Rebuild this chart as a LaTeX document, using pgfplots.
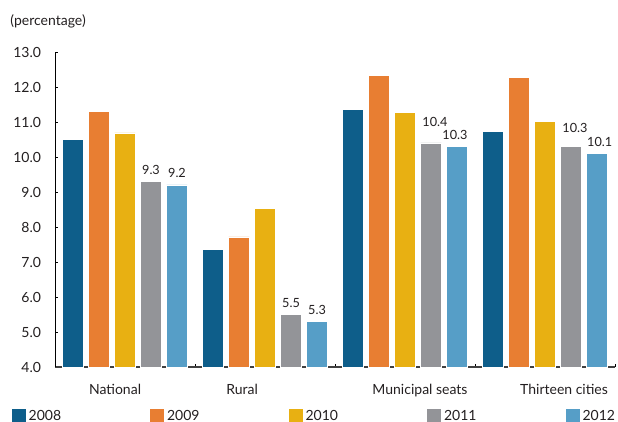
\documentclass[border=0pt]{standalone}
\usepackage{pgfplots}
\pgfplotsset{compat=1.18}
\usepackage{fontspec}
\setmainfont{Lato}
\definecolor{c08}{RGB}{14,94,138}
\definecolor{c09}{RGB}{232,126,50}
\definecolor{c10}{RGB}{232,176,18}
\definecolor{c11}{RGB}{147,148,152}
\definecolor{c12}{RGB}{86,158,199}
\definecolor{txt}{RGB}{35,31,32}
\pgfplotstableread{
x y dx dy
0 9.3 0 0
1 5.5 0 0
2 10.4 3 6.8
3 10.3 3 5
}\tEleven
\pgfplotstableread{
x y dx dy
0 9.2 0 0
1 5.3 0 0
2 10.3 -1.5 0
3 10.1 2 0
}\tTwelve
\begin{document}
\begin{tikzpicture}
\begin{axis}[
  scale only axis, width=420pt, height=236.25pt,
  xmin=-0.5, xmax=3.5, ymin=4, ymax=13,
  clip=false,
  ybar=4pt, bar width=15.5pt,
  axis x line=bottom, axis y line=left,
  axis line style={-},
  x axis line style={draw=black!75, line width=1pt},
  y axis line style={draw=black, line width=0.6pt},
  xtick align=inside, ytick align=inside, major tick length=2.25pt,
  tick style={black, line width=0.5pt},
  ytick={4,5,...,13},
  yticklabel style={/pgf/number format/fixed, /pgf/number format/fixed zerofill, /pgf/number format/precision=1, /pgf/number format/assume math mode=true},
  yticklabel style={font=\fontsize{10.5}{12}\selectfont, text=txt, xshift=-7pt},
  xtick={0.5,1.5,2.5,3.5}, xticklabels={},
  every axis plot/.append style={draw=white, line width=0.4pt},
  legend columns=5,
  legend cell align=left,
  legend style={at={(-0.0773,-0.157)}, anchor=west, draw=none, fill=none, inner sep=0pt,
    font=\fontsize{10.5}{12}\selectfont, text=txt,
    /tikz/every even column/.append style={column sep=65pt}},
  legend image code/.code={\path[#1, draw=none] (0pt,-5.25pt) rectangle (10.5pt,5.25pt);},
  nodes near coords style={font=\fontsize{9.5}{11}\selectfont, text=txt},
]
\addplot[fill=c08] coordinates {(0,10.5) (1,7.36) (2,11.37) (3,10.73)};
\addlegendentry{2008}
\addplot[fill=c09] coordinates {(0,11.31) (1,7.72) (2,12.33) (3,12.27)};
\addlegendentry{2009}
\addplot[fill=c10] coordinates {(0,10.69) (1,8.54) (2,11.28) (3,11.02)};
\addlegendentry{2010}
\addplot[fill=c11, point meta=y,
  visualization depends on={\thisrow{dx}\as\dx},
  visualization depends on={\thisrow{dy}\as\dy},
  nodes near coords={\pgfmathprintnumber[fixed,fixed zerofill,precision=1,assume math mode=true]{\pgfplotspointmeta}},
  every node near coord/.append style={xshift=\dx pt, yshift=2pt+\dy pt}]
  table[x=x,y=y] {\tEleven};
\addlegendentry{2011}
\addplot[fill=c12, point meta=y,
  visualization depends on={\thisrow{dx}\as\dx},
  visualization depends on={\thisrow{dy}\as\dy},
  nodes near coords={\pgfmathprintnumber[fixed,fixed zerofill,precision=1,assume math mode=true]{\pgfplotspointmeta}},
  every node near coord/.append style={xshift=\dx pt, yshift=2pt+\dy pt}]
  table[x=x,y=y] {\tTwelve};
\addlegendentry{2012}
\node[anchor=west, font=\fontsize{10.5}{12}\selectfont, text=txt, inner sep=0pt] at (rel axis cs:-0.08,1.097) {(percentage)};
\node[anchor=base, yshift=-20.5pt, font=\fontsize{10.5}{12}\selectfont, text=txt, inner sep=0pt] at (axis cs:-0.071,4) {National};
\node[anchor=base, yshift=-20.5pt, font=\fontsize{10.5}{12}\selectfont, text=txt, inner sep=0pt] at (axis cs:0.836,4) {Rural};
\node[anchor=base, yshift=-20.5pt, font=\fontsize{10.5}{12}\selectfont, text=txt, inner sep=0pt] at (axis cs:2.107,4) {Municipal seats};
\node[anchor=base, yshift=-20.5pt, font=\fontsize{10.5}{12}\selectfont, text=txt, inner sep=0pt] at (axis cs:3.136,4) {Thirteen cities};
\end{axis}
\pgfresetboundingbox
\path[use as bounding box] ([xshift=-41.25pt,yshift=-41.25pt]current axis.south west) rectangle ([xshift=2.25pt,yshift=39pt]current axis.north east);
\end{tikzpicture}
\end{document}
